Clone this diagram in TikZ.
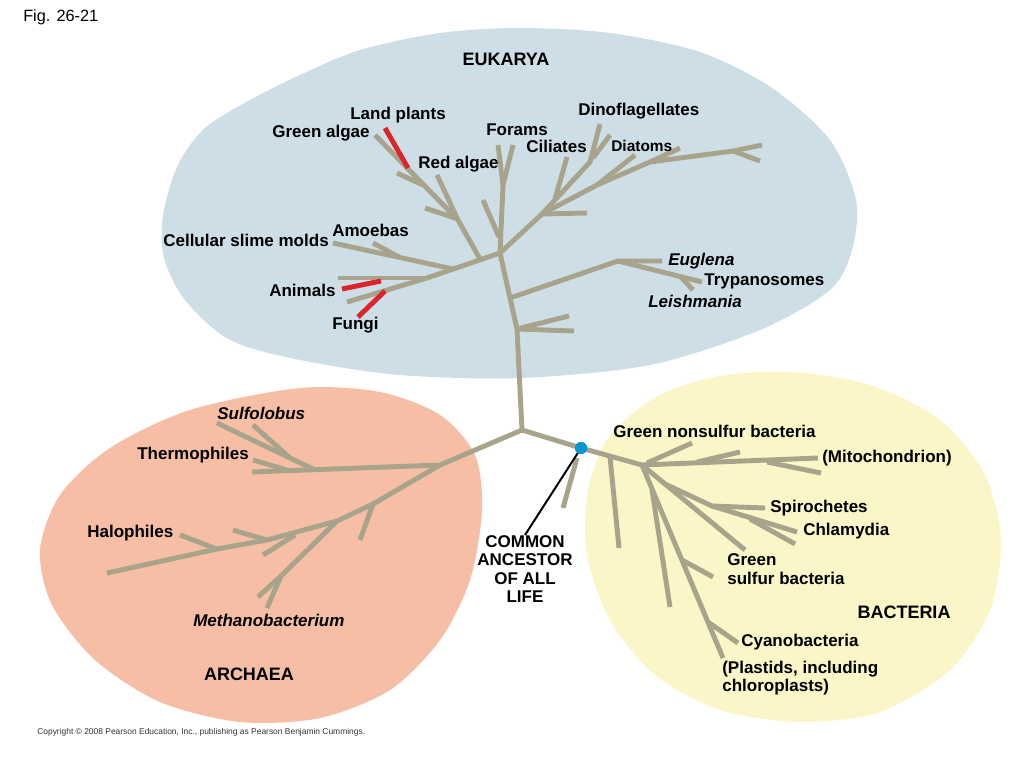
\documentclass[tikz,border=0pt]{standalone}
\usepackage{fontspec}
\setmainfont{Liberation Sans}

\definecolor{eukblue}{RGB}{206,222,230}
\definecolor{archpink}{RGB}{246,190,164}
\definecolor{bactyellow}{RGB}{250,246,199}
\definecolor{twig}{RGB}{168,164,140}
\definecolor{plantred}{RGB}{221,36,42}
\definecolor{rootblue}{RGB}{0,150,210}

\def\taxsize{\fontsize{12.1}{13.2}\selectfont}
\def\domsize{\fontsize{12.8}{14}\selectfont}

\begin{document}
\begin{tikzpicture}[x=0.25mm,y=-0.25mm,
    branch/.style={draw=twig,line width=3.5pt,line join=round},
    redtip/.style={draw=plantred,line width=3.5pt},
    taxon/.style={font=\taxsize\bfseries,inner sep=0pt,anchor=west},
    species/.style={font=\taxsize\bfseries\itshape,inner sep=0pt,anchor=west},
    domainlabel/.style={font=\domsize\bfseries,inner sep=0pt}
    ]
    \useasboundingbox (0,0) rectangle (1024,768);
    \fill[white] (0,0) rectangle (1024,768);

    % domains
    \fill[eukblue] plot[smooth cycle] coordinates {(163,215) (178,165) (205,128)
      (250,100) (300,75) (360,50) (440,33) (520,28) (610,33) (700,52) (772,88)
      (830,140) (856,200) (852,250) (830,290) (760,330) (650,365) (520,378)
      (400,375) (300,360) (230,340) (185,300) (164,258)};
    \fill[archpink] plot[smooth cycle] coordinates {(300,388) (380,392) (440,415)
      (475,455) (482,510) (470,580) (440,640) (390,690) (320,718) (240,722)
      (160,702) (95,660) (52,605) (40,550) (60,495) (110,448) (190,410)};
    \fill[bactyellow] plot[smooth cycle] coordinates {(790,372) (870,385) (940,420)
      (985,475) (1001,540) (990,610) (950,670) (880,712) (800,722) (720,710)
      (655,675) (610,620) (587,555) (588,490) (610,435) (660,395) (720,376)};

    % eukarya tree
    \draw[branch] (522,430) -- (517,329) -- (510,298) -- (500,253) -- (427,278);
    \draw[branch] (500,253) -- (503,185) -- (498,145);
    \draw[branch] (375,135) -- (458,220) -- (480,259);
    \draw[branch] (500,253) -- (542,214) -- (590,162) -- (600,124);
    \draw[branch] (542,214) -- (597,185) -- (650,162) -- (733,151) -- (762,145);
    \draw[branch] (510,298) -- (618,261) -- (662,261);
    \foreach \xa/\ya/\xb/\yb in {333/243/453/269, 373/243/399/257,
      338/278/427/278, 347/302/427/278, 397/173/423/185, 425/208/455/218,
      437/175/458/220, 513/145/503/185, 483/200/499/237, 542/214/587/213,
      567/157/555/199, 610/135/593/158, 597/185/635/155, 733/151/760/161,
      650/162/680/148, 618/261/702/282, 680/276/693/290, 517/329/569/316,
      517/329/574/331}
      \draw[branch] (\xa,\ya) -- (\xb,\yb);
    \draw[redtip] (385,128) -- (408,168);
    \draw[redtip] (342,289) -- (381,281);
    \draw[redtip] (358,317) -- (385,291);

    % archaea tree
    \draw[branch] (522,430) -- (440,465) -- (252,472);
    \draw[branch] (440,465) -- (373,504) -- (337,521) -- (267,540) -- (217,549) -- (107,573);
    \draw[branch] (337,521) -- (281,576) -- (267,608);
    \foreach \xa/\ya/\xb/\yb in {217/423/313/469, 253/425/290/458,
      253/460/287/470, 373/504/360/540, 180/535/217/549, 233/530/267/540,
      263/555/295/535, 281/576/258/597}
      \draw[branch] (\xa,\ya) -- (\xb,\yb);

    % bacteria tree
    \draw[branch] (522,430) -- (581,448) -- (642,465) -- (818,458);
    \draw[branch] (642,465) -- (745,550);
    \draw[branch] (642,465) -- (723,658);
    \draw[branch] (665,484) -- (712,506) -- (797,532);
    \foreach \xa/\ya/\xb/\yb in {577/458/563/508, 610/457/619/548,
      767/462/821/473, 647/463/692/443, 697/462/740/452, 712/506/765/508,
      750/519/795/544, 652/490/670/607, 682/560/713/577, 708/622/738/643}
      \draw[branch] (\xa,\ya) -- (\xb,\yb);

    % root
    \node[font=\taxsize\bfseries,inner sep=0pt,align=center,anchor=north] (ancestor)
      at (525,535) {COMMON\\ANCESTOR\\OF ALL\\LIFE};
    \node[circle,fill=rootblue,inner sep=0pt,minimum size=3mm] (root) at (581,448) {};
    \draw[black,line width=1.4pt] (root) -- (ancestor.north);
    \fill[rootblue] (root) circle (1.5mm);

    % eukarya labels
    \node[domainlabel] (eukarya) at (506,59) {EUKARYA};
    \node[taxon] (landplants) at (350,115) {Land plants};
    \node[taxon] (greenalgae) at (272,133) {Green algae};
    \node[taxon] (redalgae) at (418,164) {Red algae};
    \node[taxon] (forams) at (486,130) {Forams};
    \node[taxon] (ciliates) at (526,146) {Ciliates};
    \node[taxon] (dinos) at (578,111) {Dinoflagellates};
    \node[taxon,font=\fontsize{11}{12}\selectfont\bfseries] (diatoms) at (611,146) {Diatoms};
    \node[taxon] (amoebas) at (332,230) {Amoebas};
    \node[taxon] (slime) at (163,240) {Cellular slime molds};
    \node[taxon] (animals) at (269,290) {Animals};
    \node[taxon] (fungi) at (332,325) {Fungi};
    \node[species] (euglena) at (668,261) {Euglena};
    \node[taxon] (trypano) at (704,281) {Trypanosomes};
    \node[species] (leish) at (648,301) {Leishmania};

    % archaea labels
    \node[species] (sulfolobus) at (217,413) {Sulfolobus};
    \node[taxon] (thermo) at (137,455) {Thermophiles};
    \node[taxon] (halo) at (87,533) {Halophiles};
    \node[species] (methano) at (193,620) {Methanobacterium};
    \node[domainlabel] (archaea) at (249,674) {ARCHAEA};

    % bacteria labels
    \node[taxon] (nonsulfur) at (613,431) {Green nonsulfur bacteria};
    \node[taxon] (mito) at (822,458) {(Mitochondrion)};
    \node[taxon] (spiro) at (770,508) {Spirochetes};
    \node[taxon] (chlamydia) at (803,531) {Chlamydia};
    \node[taxon,align=left] (greensulfur) at (727,569) {Green\\sulfur bacteria};
    \node[domainlabel] (bacteria) at (904,612) {BACTERIA};
    \node[taxon] (cyano) at (741,642) {Cyanobacteria};
    \node[taxon,align=left] (plastids) at (722,678) {(Plastids, including\\chloroplasts)};

    % page texts
    \node[anchor=west,inner sep=0pt,font=\fontsize{11.6}{13}\selectfont] (fig) at (23,17) {Fig. 26-21};
    \node[anchor=west,inner sep=0pt,font=\fontsize{6}{7}\selectfont,text=black!80] (copy)
      at (37,732) {Copyright \textcopyright{} 2008 Pearson Education, Inc., publishing as Pearson Benjamin Cummings.};
  \end{tikzpicture}
\end{document}
